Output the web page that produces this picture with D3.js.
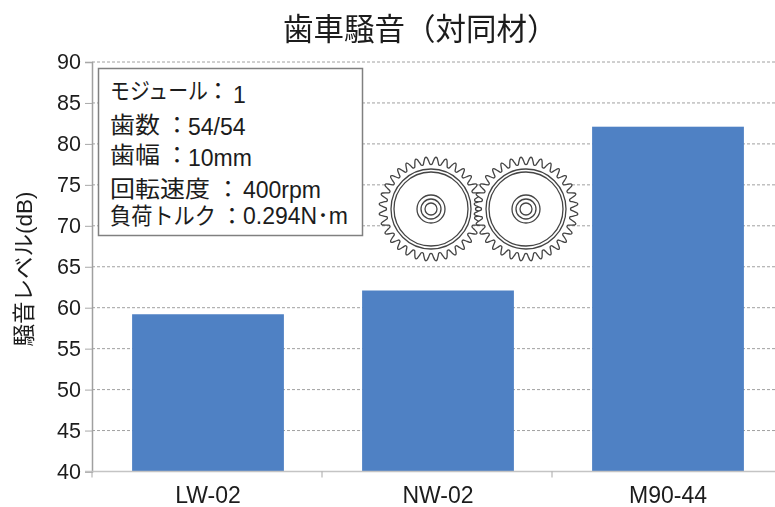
<!DOCTYPE html>
<html>
<head>
<meta charset="utf-8">
<script src="https://cdn.jsdelivr.net/npm/d3@7"></script>
<style>
  html, body { margin: 0; padding: 0; background: #fff; }
  svg { display: block; filter: blur(0.45px); }
  text { font-family: "Liberation Sans", "Noto Sans CJK JP", sans-serif; fill: #1c1c1c; }
</style>
</head>
<body>
<svg width="775" height="507"></svg>
<script>
const categories = ['LW-02', 'NW-02', 'M90-44'];
const noiseLevels = [59.2, 62.1, 82.1];
const yTicks = [40, 45, 50, 55, 60, 65, 70, 75, 80, 85, 90];
const titleText = '歯車騒音（対同材）';
const yLabelText = '騒音レベル(dB)';
const infoLabels = ['モジュール', '歯数', '歯幅', '回転速度', '負荷トルク'];
const infoValues = ['1', '54/54', '10mm', '400rpm', '0.294N･m'];

const svg = d3.select('svg');
const W = 775;
const plotLeft = 92, plotBottom = 471.5, plotTop = 62;

const x = d3.scaleBand()
  .domain(categories)
  .range([plotLeft + 1, plotLeft + 691])
  .paddingInner(0.34)
  .paddingOuter(0.17);

const y = d3.scaleLinear().domain([40, 90]).range([plotBottom, plotTop]);

// grid
svg.append('g').selectAll('line')
  .data(yTicks.slice(1))
  .enter().append('line')
  .attr('x1', plotLeft)
  .attr('x2', W)
  .attr('y1', d => y(d))
  .attr('y2', d => y(d))
  .attr('stroke', '#a0a0a0')
  .attr('stroke-dasharray', '3,2');

// bars
svg.append('g').selectAll('rect')
  .data(noiseLevels)
  .enter().append('rect')
  .attr('x', (d, i) => x(categories[i]))
  .attr('width', x.bandwidth())
  .attr('y', d => y(d))
  .attr('height', d => plotBottom - y(d))
  .attr('fill', '#4f81c4');

// axes
const yAxis = svg.append('g')
  .attr('transform', `translate(${plotLeft},0)`)
  .call(d3.axisLeft(y).tickValues(yTicks).tickSize(7).tickPadding(4));
yAxis.select('.domain').attr('stroke', '#a0a0a0').attr('stroke-width', 1.5);
yAxis.selectAll('line').attr('stroke', '#a8a8a8');
yAxis.selectAll('text').style('font-size', '21.5px').attr('fill', '#1c1c1c');

const xAxis = svg.append('g')
  .attr('transform', `translate(0,${plotBottom})`)
  .call(d3.axisBottom(x).tickSize(0).tickPadding(15));
xAxis.select('.domain').remove();
xAxis.selectAll('text').style('font-size', '23px').attr('fill', '#1c1c1c');

xAxis.append('line')
  .attr('x1', plotLeft - 7).attr('x2', W)
  .attr('stroke', '#c4c4c4').attr('stroke-width', 1.5);

const step = x.step();
xAxis.selectAll('.sep')
  .data([0, 1, 2])
  .enter().append('line')
  .attr('class', 'sep')
  .attr('x1', i => plotLeft + i * step)
  .attr('x2', i => plotLeft + i * step)
  .attr('y1', 0)
  .attr('y2', 6)
  .attr('stroke', '#a8a8a8');

// title and y label
svg.append('text')
  .attr('x', 283)
  .attr('y', 40)
  .style('font-size', '30.5px')
  .text(titleText);

svg.append('text')
  .attr('transform', 'translate(32,269) rotate(-90)')
  .attr('text-anchor', 'middle')
  .style('font-size', '22.5px')
  .text(yLabelText);

// info box
svg.append('rect')
  .attr('x', 98.5).attr('y', 68.5)
  .attr('width', 264).attr('height', 167)
  .attr('fill', '#fff')
  .attr('stroke', '#808080')
  .attr('stroke-width', 1.5);

const labelWidths = [98, 50, 50, 100, 106];
const labelBase = [99, 133, 163, 197, 224];
const colonX = [218, 177, 177, 228, 232];
const valueX = [233, 188, 188, 243, 243];
const valueBase = [103, 135, 166, 198, 224];

const info = svg.append('g');
info.selectAll('.info-label')
  .data(infoLabels)
  .enter().append('text')
  .attr('class', 'info-label')
  .attr('x', 110)
  .attr('y', (d, i) => labelBase[i])
  .attr('textLength', (d, i) => labelWidths[i])
  .attr('lengthAdjust', 'spacingAndGlyphs')
  .style('font-size', '23px')
  .text(d => d);
info.selectAll('.info-colon')
  .data(infoLabels)
  .enter().append('text')
  .attr('class', 'info-colon')
  .attr('x', (d, i) => colonX[i])
  .attr('y', (d, i) => labelBase[i])
  .attr('text-anchor', 'middle')
  .style('font-size', '23px')
  .text('：');
info.selectAll('.info-value')
  .data(infoValues)
  .enter().append('text')
  .attr('class', 'info-value')
  .attr('x', (d, i) => valueX[i])
  .attr('y', (d, i) => valueBase[i])
  .style('font-size', '23px')
  .text(d => d);

// gears
const teeth = 32;
const toothRadii = [44.5, 45, 48, 51, 52, 51, 48, 45];
const gearPath = d3.lineRadial().curve(d3.curveCardinalClosed.tension(0.3));
const gearPoints = d3.range(teeth * toothRadii.length).map(i =>
  [i / (teeth * toothRadii.length) * 2 * Math.PI, toothRadii[i % toothRadii.length]]);

const gears = svg.append('g').selectAll('g')
  .data([[431, 209], [526, 209]])
  .enter().append('g')
  .attr('transform', d => `translate(${d[0]},${d[1]})`);

gears.append('path')
  .attr('d', gearPath(gearPoints))
  .attr('fill', '#fff')
  .attr('stroke', '#444')
  .attr('stroke-width', 1.3);

gears.selectAll('circle')
  .data([40, 37, 14, 10, 6])
  .enter().append('circle')
  .attr('r', d => d)
  .attr('fill', 'none')
  .attr('stroke', '#444')
  .attr('stroke-width', 1.3);
</script>
</body>
</html>
